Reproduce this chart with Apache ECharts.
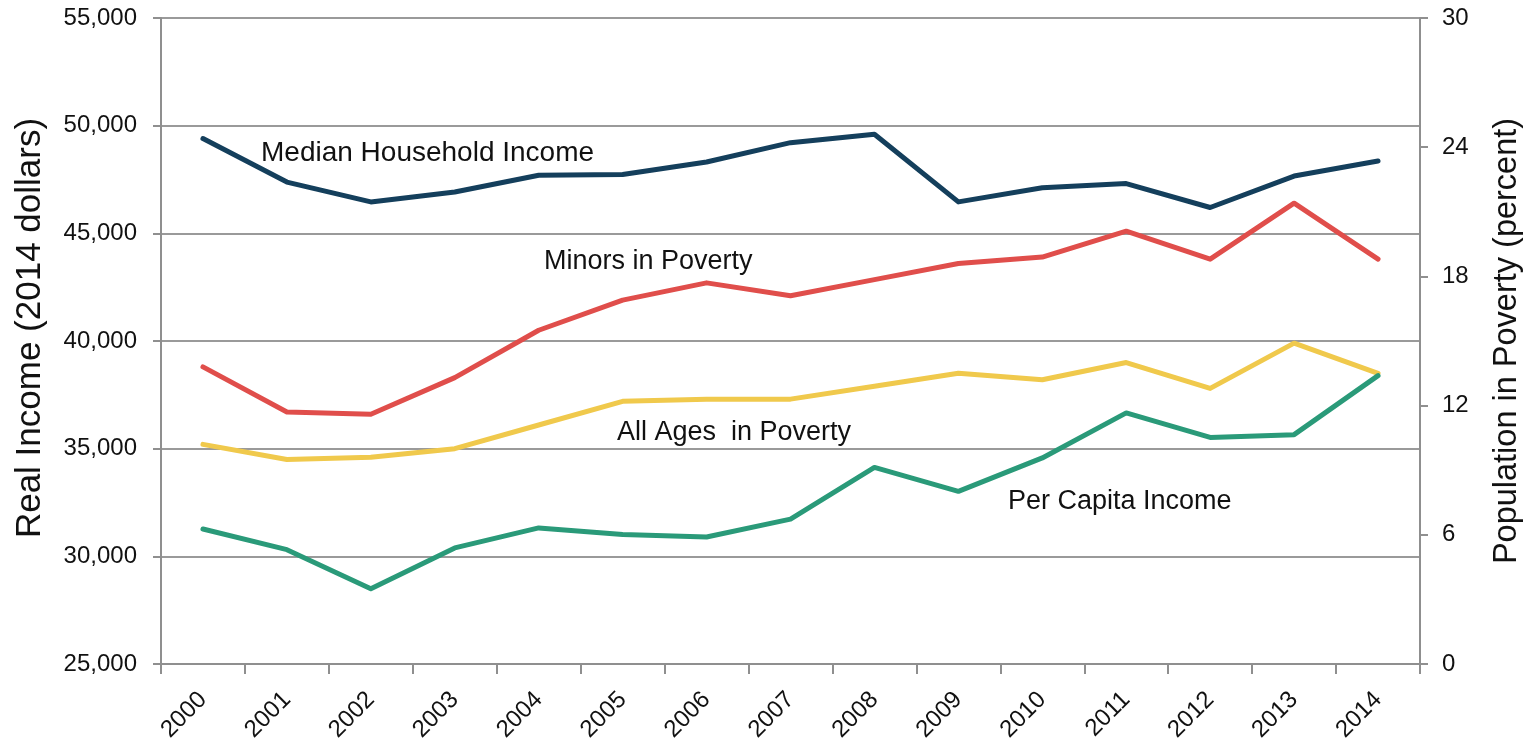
<!DOCTYPE html>
<html>
<head>
<meta charset="utf-8">
<title>Real Income and Poverty, 2000–2014</title>
<script src="https://cdn.jsdelivr.net/npm/echarts@6/dist/echarts.min.js"></script>
<style>
  html, body { margin: 0; padding: 0; background: #ffffff; }
  #chart { width: 1532px; height: 742px; }
</style>
</head>
<body>
<div id="chart"></div>
<script>
// Years on the category axis
const years = ['2000', '2001', '2002', '2003', '2004', '2005', '2006', '2007',
               '2008', '2009', '2010', '2011', '2012', '2013', '2014'];

// Real income, 2014 dollars (left axis)
const medianHouseholdIncome = [49400, 47380, 46460, 46920, 47700, 47730, 48310, 49210,
                               49600, 46460, 47120, 47310, 46200, 47660, 48360];
const perCapitaIncome = [31270, 30310, 28490, 30390, 31320, 31010, 30900, 31730,
                         34130, 33020, 34570, 36660, 35520, 35650, 38390];

// Population in poverty, percent (right axis)
const minorsInPoverty = [13.8, 11.7, 11.6, 13.3, 15.5, 16.9, 17.7, 17.1,
                         17.85, 18.6, 18.9, 20.1, 18.8, 21.4, 18.8];
const allAgesInPoverty = [10.2, 9.5, 9.6, 10.0, 11.1, 12.2, 12.3, 12.3,
                          12.9, 13.5, 13.2, 14.0, 12.8, 14.9, 13.5];

// Axis tick settings
const incomeAxis = { min: 25000, max: 55000, step: 5000 };
const povertyAxis = { min: 0, max: 30, step: 6 };

const axisGray = '#8f8f8f';
const tickFont = { fontFamily: 'Liberation Sans', fontSize: 24, color: '#111111' };
const noteFont = '27px "Liberation Sans", Arial, sans-serif';

const chart = echarts.init(document.getElementById('chart'), null, { renderer: 'canvas' });

function lineSeries(name, data, color, axisIndex) {
  return {
    name: name,
    type: 'line',
    yAxisIndex: axisIndex,
    data: data,
    symbol: 'none',
    smooth: false,
    lineStyle: { color: color, width: 5, cap: 'round', join: 'round' },
    itemStyle: { color: color },
    animation: false,
    z: 3
  };
}

const option = {
  backgroundColor: '#ffffff',
  animation: false,
  grid: { left: 161, right: 112, top: 18, bottom: 78, containLabel: false, outerBoundsMode: 'none' },
  xAxis: {
    type: 'category',
    data: years,
    boundaryGap: true,
    axisLine: { show: true, lineStyle: { color: axisGray, width: 2 } },
    axisTick: { show: true, length: 10, interval: 0, lineStyle: { color: axisGray, width: 2 } },
    axisLabel: Object.assign({ rotate: 45, margin: 32, interval: 0 }, tickFont),
    splitLine: { show: false }
  },
  yAxis: [
    {
      type: 'value',
      position: 'left',
      min: incomeAxis.min,
      max: incomeAxis.max,
      interval: incomeAxis.step,
      name: 'Real Income (2014 dollars)',
      nameLocation: 'middle',
      nameRotate: 90,
      nameGap: 113,
      nameTextStyle: { fontFamily: 'Liberation Sans', fontSize: 35, color: '#111111', padding: [0, 0, 0, 26] },
      axisLine: { show: true, lineStyle: { color: axisGray, width: 2 } },
      axisTick: { show: true, length: 8, lineStyle: { color: axisGray, width: 2 } },
      axisLabel: Object.assign({
        margin: 24,
        formatter: function (v) { return v.toLocaleString('en-US'); }
      }, tickFont),
      splitLine: { show: true, lineStyle: { color: '#9a9a9a', width: 2 } }
    },
    {
      type: 'value',
      position: 'right',
      min: povertyAxis.min,
      max: povertyAxis.max,
      interval: povertyAxis.step,
      name: 'Population in Poverty (percent)',
      nameLocation: 'middle',
      nameRotate: 90,
      nameGap: 71,
      nameTextStyle: { fontFamily: 'Liberation Sans', fontSize: 32.5, color: '#111111' },
      axisLine: { show: true, lineStyle: { color: axisGray, width: 2 } },
      axisTick: { show: true, length: 8, lineStyle: { color: axisGray, width: 2 } },
      axisLabel: Object.assign({ margin: 22 }, tickFont),
      splitLine: { show: false }
    }
  ],
  series: [
    lineSeries('Median Household Income', medianHouseholdIncome, '#143f5c', 0),
    lineSeries('Minors in Poverty', minorsInPoverty, '#e04e4b', 1),
    lineSeries('All Ages  in Poverty', allAgesInPoverty, '#f0c94c', 1),
    lineSeries('Per Capita Income', perCapitaIncome, '#2a9a79', 0)
  ],
  graphic: [
    { type: 'text', x: 261, y: 153, z: 10,
      style: { text: 'Median Household Income', font: '28px "Liberation Sans", Arial, sans-serif',
               fill: '#111111', align: 'left', verticalAlign: 'middle' } },
    { type: 'text', x: 544, y: 262, z: 10,
      style: { text: 'Minors in Poverty', font: noteFont, fill: '#111111', align: 'left', verticalAlign: 'middle' } },
    { type: 'text', x: 617, y: 433, z: 10,
      style: { text: 'All Ages  in Poverty', font: noteFont, fill: '#111111', align: 'left', verticalAlign: 'middle',
               stroke: '#ffffff', lineWidth: 4 } },
    { type: 'text', x: 1008, y: 502, z: 10,
      style: { text: 'Per Capita Income', font: noteFont, fill: '#111111', align: 'left', verticalAlign: 'middle' } }
  ]
};

chart.setOption(option);
</script>
</body>
</html>
